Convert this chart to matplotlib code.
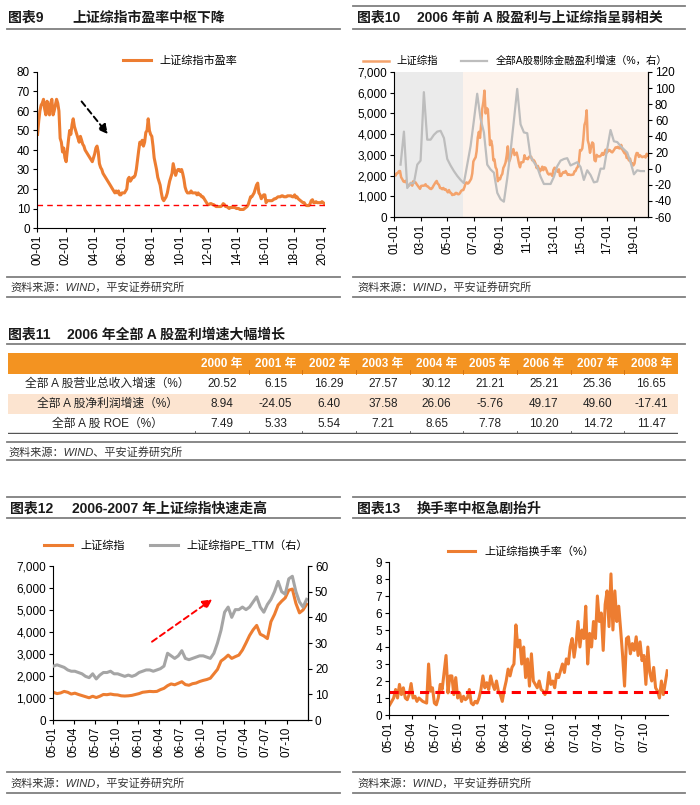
import matplotlib
matplotlib.use('Agg')
import matplotlib.pyplot as plt
import matplotlib.dates as mdates
import numpy as np
import pandas as pd
from matplotlib.lines import Line2D
from matplotlib.patches import Rectangle
from matplotlib.ticker import FuncFormatter, MultipleLocator

plt.rcParams['font.family'] = ['Liberation Sans', 'Noto Sans CJK SC']
plt.rcParams['axes.unicode_minus'] = False

# ---------------- 数据 ----------------
# 图表9 上证综指市盈率（月度，2000-01 起）
pe_vals = [
    48, 55, 60, 63, 64, 66, 61, 58, 65, 62, 58, 64,        # 2000
    66, 58, 60, 63, 66, 64, 60, 46, 44, 39, 41, 36,        # 2001
    34, 40, 45, 50, 48, 53, 56, 52, 50, 48, 46, 44,        # 2002
    47, 45, 43, 42, 40, 39, 38, 37, 36, 35, 34, 36,        # 2003
    38, 41, 42, 39, 33, 31, 30, 28, 27, 26, 25, 24,        # 2004
    23, 22, 21, 20, 19, 18, 19, 18, 19, 17, 17, 18,        # 2005
    18, 18, 19, 20, 25, 26, 24, 25, 26, 26, 27, 30,        # 2006
    35, 40, 44, 43, 45, 42, 44, 49, 50, 56, 50, 48,        # 2007
    47, 42, 36, 33, 30, 26, 24, 22, 18, 15, 14, 15,        # 2008
    16, 18, 21, 24, 26, 28, 33, 30, 27, 29, 30, 30,        # 2009
    29, 30, 28, 25, 21, 19, 18, 18, 18, 19, 18, 18,        # 2010
    18, 18, 17, 18, 17, 17, 16, 16, 15, 14, 13, 12,        # 2011
    12, 12.5, 12.5, 12, 12, 11.5, 11, 11, 11, 11, 11, 11.5,  # 2012
    12.5, 12, 11, 11, 10.5, 10, 10.5, 10.5, 11, 10.5, 10.5, 10,  # 2013
    10, 10, 9.5, 9.5, 9.5, 9.5, 10, 10.5, 11, 12, 14, 16,  # 2014
    16, 17, 18, 20, 22, 23, 18, 17, 15, 16, 17, 17,        # 2015
    13, 14, 14, 14, 14, 14, 14.5, 15, 15, 15.5, 16, 16,    # 2016
    16, 16.5, 16.5, 16, 16, 16, 16.5, 16.5, 16.5, 16.5, 16, 16,  # 2017
    17, 15.5, 16, 15, 14.5, 14, 13.5, 13, 13, 12, 11.5, 11.5,  # 2018
    11.5, 12.5, 14, 14.5, 13, 13, 13.5, 13, 13, 13, 13, 13.5,  # 2019
    13, 12.5,                                               # 2020
]
pe_center = 12

# 图表10 上证综指（月度，2001-01 起）
sh_index = [
    2070, 2000, 2110, 2120, 2210, 2220, 1920, 1830, 1720, 1690, 1750, 1650,  # 2001
    1490, 1520, 1580, 1650, 1510, 1730, 1650, 1670, 1580, 1510, 1440, 1360,  # 2002
    1500, 1510, 1510, 1520, 1580, 1490, 1480, 1420, 1370, 1350, 1400, 1500,  # 2003
    1590, 1680, 1740, 1600, 1560, 1400, 1390, 1340, 1400, 1320, 1340, 1270,  # 2004
    1190, 1300, 1180, 1160, 1060, 1080, 1080, 1160, 1160, 1100, 1100, 1160,  # 2005
    1260, 1300, 1300, 1440, 1640, 1670, 1610, 1660, 1750, 1840, 2100, 2680,  # 2006
    2790, 2880, 3180, 3840, 4110, 3820, 4470, 5220, 5550, 6100, 5000, 5260,  # 2007
    5200, 4350, 3470, 3690, 3430, 2740, 2780, 2400, 2290, 1730, 1870, 1820,  # 2008
    1990, 2080, 2370, 2480, 2630, 2960, 3410, 2670, 2780, 3000, 3200, 3280,  # 2009
    2990, 3050, 3110, 2870, 2590, 2400, 2640, 2640, 2660, 2980, 2820, 2810,  # 2010
    2790, 2900, 2930, 2910, 2740, 2760, 2700, 2570, 2360, 2470, 2330, 2200,  # 2011
    2290, 2430, 2260, 2400, 2370, 2230, 2100, 2050, 2090, 2070, 1980, 2270,  # 2012
    2380, 2360, 2240, 2180, 2300, 1980, 1990, 2100, 2170, 2140, 2220, 2120,  # 2013
    2030, 2060, 2030, 2030, 2040, 2050, 2200, 2220, 2360, 2420, 2680, 3230,  # 2014
    3210, 3310, 3750, 4440, 4610, 5150, 3700, 3500, 3100, 3380, 3600, 3540,  # 2015
    2740, 2690, 3000, 2940, 2920, 2930, 2980, 3090, 3000, 3100, 3250, 3100,  # 2016
    3160, 3240, 3220, 3150, 3120, 3190, 3270, 3360, 3350, 3390, 3320, 3310,  # 2017
    3480, 3260, 3170, 3080, 3100, 2850, 2880, 2730, 2820, 2600, 2590, 2490,  # 2018
    2580, 2940, 3090, 3080, 2900, 2980, 2930, 2890, 2910, 2930, 2870, 3050,  # 2019
    2980,                                                                    # 2020
]
# 全部A股剔除金融盈利增速（%，季度，2001Q2 起）
profit_growth = [
    5, 46, -24,
    -18, -18, 5, 10,
    95, 36, 36, 42,
    46, 47, 38, 12,
    4, -3, -9, -14,
    -18, 5, 28, 60,
    93, 62, 45, 5,
    -1, -5, -30, -38,
    -41, -12, 22, 60,
    99, 55, 45, 44,
    15, 8, 2, -10,
    -19, -19, -19, -10,
    3, 10, 12, 13,
    4, 6, 8, 2,
    -14, -2, -8, -17,
    -16, 0, 0, 25,
    48, 34, 33, 28,
    24, 20, 8, -7,
    -2, -3, -3,
]

# 图表11 表格
table_years = ['2000 年', '2001 年', '2002 年', '2003 年', '2004 年',
               '2005 年', '2006 年', '2007 年', '2008 年']
table_rows = ['全部 A 股营业总收入增速（%）', '全部 A 股净利润增速（%）', '全部 A 股 ROE（%）']
revenue_growth = [20.52, 6.15, 16.29, 27.57, 30.12, 21.21, 25.21, 25.36, 16.65]
netprofit_growth = [8.94, -24.05, 6.40, 37.58, 26.06, -5.76, 49.17, 49.60, -17.41]
roe = [7.49, 5.33, 5.54, 7.21, 8.65, 7.78, 10.20, 14.72, 11.47]

# 图表12 上证综指与PE_TTM（半月，2005-01 ~ 2007-12）
sh_0507 = [
    1260, 1200, 1230, 1300, 1260, 1180, 1220, 1160, 1110, 1060, 1010, 1080,  # 2005H1
    1020, 1080, 1160, 1150, 1180, 1150, 1140, 1100, 1090, 1100, 1120, 1160,  # 2005H2
    1200, 1260, 1280, 1300, 1290, 1300, 1380, 1440, 1560, 1640, 1600, 1670,  # 2006H1
    1740, 1610, 1580, 1650, 1680, 1750, 1800, 1840, 1900, 2100, 2300, 2680,  # 2006H2
    2800, 2950, 2800, 2880, 2950, 3180, 3500, 3840, 4100, 4300, 3900, 3820,  # 2007H1
    3700, 4470, 4800, 5220, 5400, 5550, 5900, 5950, 5300, 4870, 5000, 5260,  # 2007H2
]
pe_ttm_0507 = [
    21, 21.5, 21, 20.5, 19.5, 19, 19, 18.5, 18, 17, 16.5, 18,
    16, 17.5, 18.5, 18.5, 19, 18, 18, 17.5, 17, 17.5, 17, 17.5,
    18.5, 19, 19.5, 19.5, 19, 19.5, 20, 21, 26, 25, 24, 25,
    27, 24, 23.5, 24, 24.5, 25, 25, 24.5, 24, 26, 30, 35,
    42, 44, 40, 43, 43, 44, 43, 44, 46, 48, 44, 42,
    45, 47, 50, 54, 50, 49, 55, 56, 50, 46, 44, 47,
]

# 图表13 上证综指换手率（%，周度近似，2005-01 ~ 2007-12）
turnover = [
    0.6, 0.8, 1.0, 1.5,  1.0, 1.8, 1.2, 1.6,  1.0, 0.9, 1.2, 1.85,   # 2005 Q1
    1.0, 1.1, 0.8, 1.0,  0.9, 0.8, 0.75, 0.7,  3.0, 1.4, 1.6, 0.7,   # 2005 Q2
    0.6, 1.0, 1.8, 1.5,  2.5, 3.5, 1.3, 2.3,  2.3, 1.2, 2.2, 1.0,    # 2005 Q3
    1.3, 0.8, 1.1, 0.9,  1.0, 1.5, 0.7, 0.6,  0.8, 0.7, 1.0, 1.5,    # 2005 Q4
    2.3, 1.6, 1.9, 1.5,  2.3, 1.8, 1.5, 2.0,  1.4, 1.2, 0.8, 1.5,    # 2006 Q1
    2.0, 2.7, 2.3, 2.8,  3.0, 5.3, 4.0, 4.4,  3.0, 4.0, 2.2, 3.3,    # 2006 Q2
    1.7, 3.6, 2.0, 1.8,  1.6, 2.0, 1.5, 1.4,  1.2, 1.5, 2.5, 1.8,    # 2006 Q3
    2.0, 1.6, 2.4, 2.2,  2.6, 3.0, 2.5, 3.3,  3.0, 4.0, 4.5, 3.4,    # 2006 Q4
    4.2, 5.5, 4.0, 5.0,  4.5, 6.4, 3.0, 4.8,  4.0, 5.5, 4.5, 7.0,    # 2007 Q1
    5.5, 6.0, 3.8, 6.5,  7.3, 5.2, 8.3, 5.0,  7.3, 5.5, 6.4, 5.0,    # 2007 Q2
    3.5, 1.7, 4.5, 4.6,  3.6, 4.2, 3.8, 4.6,  3.5, 4.3, 3.2, 3.5,    # 2007 Q3
    1.8, 4.0, 2.5, 2.0,  2.8, 1.6, 1.4, 1.0,  2.0, 1.2, 1.9, 2.6,    # 2007 Q4
]
turnover_center = 1.35

ORANGE = '#ED7D31'
GRAY = '#A5A5A5'
W, H = 700, 805


def box(l, t, r, b):
    return [l / W, 1 - b / H, (r - l) / W, (b - t) / H]


def hline(fig, x0, x1, y, color='#7F7F7F', lw=1.3):
    fig.add_artist(Line2D([x0 / W, x1 / W], [1 - y / H, 1 - y / H],
                          color=color, lw=lw, transform=fig.transFigure))


def ftext(fig, x, y, s, **kw):
    fig.text(x / W, 1 - y / H, s, va='center', **kw)


def style_axis(ax, right=False):
    for s in ['top'] + ([] if right else ['right']):
        ax.spines[s].set_visible(False)
    for s in ax.spines.values():
        s.set_linewidth(0.8)
    ax.tick_params(direction='out', length=3, width=0.8, labelsize=8.5, pad=2)


def date_axis(ax, ticks, lim):
    ax.set_xlim(pd.Timestamp(lim[0]), pd.Timestamp(lim[1]))
    ax.set_xticks([pd.Timestamp(t) for t in ticks])
    ax.xaxis.set_major_formatter(mdates.DateFormatter('%y-%m'))
    plt.setp(ax.get_xticklabels(), rotation=90)


comma = FuncFormatter(lambda v, p: f'{v:,.0f}')

fig = plt.figure(figsize=(7, 8.05), dpi=100)
fig.patch.set_facecolor('white')

title_kw = dict(fontsize=10, fontweight='bold', color='#1a1a1a')
src_kw = dict(fontsize=8, style='italic', color='#333333')

# ---------------- 框线与标题 ----------------
hline(fig, 353, 685, 6)
for (x0, x1) in [(7, 340), (353, 685)]:
    hline(fig, x0, x1, 29)
    hline(fig, x0, x1, 277)
    hline(fig, x0, x1, 297)
    hline(fig, x0, x1, 497)
    hline(fig, x0, x1, 518)
    hline(fig, x0, x1, 772)
    hline(fig, x0, x1, 793)
hline(fig, 7, 685, 344)
hline(fig, 7, 685, 442)
hline(fig, 7, 685, 460)

ftext(fig, 8, 18, '图表9', **title_kw)
ftext(fig, 72, 18, '上证综指市盈率中枢下降', **title_kw)
ftext(fig, 357, 18, '图表10', **title_kw)
ftext(fig, 417, 18, '2006 年前 A 股盈利与上证综指呈弱相关', **title_kw)
ftext(fig, 8, 335, '图表11', **title_kw)
ftext(fig, 67, 335, '2006 年全部 A 股盈利增速大幅增长', **title_kw)
ftext(fig, 10, 509, '图表12', **title_kw)
ftext(fig, 72, 509, '2006-2007 年上证综指快速走高', **title_kw)
ftext(fig, 357, 509, '图表13', **title_kw)
ftext(fig, 417, 509, '换手率中枢急剧抬升', **title_kw)

ftext(fig, 10, 287, '资料来源：WIND，平安证券研究所', **src_kw)
ftext(fig, 357, 287, '资料来源：WIND，平安证券研究所', **src_kw)
ftext(fig, 8, 452, '资料来源：WIND、平安证券研究所', **src_kw)
ftext(fig, 10, 783, '资料来源：WIND，平安证券研究所', **src_kw)
ftext(fig, 357, 783, '资料来源：WIND，平安证券研究所', **src_kw)

# ---------------- 图表9 ----------------
ax9 = fig.add_axes(box(37, 72, 325, 228))
d9 = pd.date_range('2000-01-01', periods=len(pe_vals), freq='MS') + pd.Timedelta(days=14)
l9, = ax9.plot(d9, pe_vals, color=ORANGE, lw=2.2)
ax9.axhline(pe_center, color='red', lw=1, ls=(0, (4, 3)))
ax9.set_ylim(0, 80)
ax9.yaxis.set_major_locator(MultipleLocator(10))
date_axis(ax9, [f'{y}-01-01' for y in range(2000, 2021, 2)], ('2000-01-01', '2020-03-01'))
style_axis(ax9)
ax9.annotate('', xy=(pd.Timestamp('2005-02-01'), 47), xytext=(pd.Timestamp('2003-01-01'), 66),
             arrowprops=dict(arrowstyle='-|>', ls=(0, (3, 2)), color='black', lw=1.4,
                             mutation_scale=14))
fig.legend([l9], ['上证综指市盈率'], loc='center', bbox_to_anchor=(180 / W, 1 - 61 / H),
           frameon=False, fontsize=8, handlelength=2.5)

# ---------------- 图表10 ----------------
ax10 = fig.add_axes(box(394, 72, 648, 217))
d10 = pd.date_range('2001-01-01', periods=len(sh_index), freq='MS') + pd.Timedelta(days=14)
ax10.axvspan(pd.Timestamp('2001-01-01'), pd.Timestamp('2006-03-10'), color='#EBEBEB', lw=0, zorder=0)
ax10.axvspan(pd.Timestamp('2006-03-10'), pd.Timestamp('2020-01-20'), color='#FDF3EC', lw=0, zorder=0)
l10a, = ax10.plot(d10, sh_index, color='#F4A36C', lw=1.8)
ax10.set_ylim(0, 7000)
ax10.yaxis.set_major_locator(MultipleLocator(1000))
ax10.yaxis.set_major_formatter(comma)
ax10b = ax10.twinx()
dg = pd.date_range('2001-06-01', periods=len(profit_growth), freq='3MS') + pd.Timedelta(days=29)
l10b, = ax10b.plot(dg, profit_growth, color='#BDBDBD', lw=1.6)
ax10b.set_ylim(-60, 120)
ax10b.yaxis.set_major_locator(MultipleLocator(20))
date_axis(ax10, [f'{y}-01-01' for y in range(2001, 2020, 2)], ('2001-01-01', '2020-01-20'))
style_axis(ax10, right=True)
style_axis(ax10b, right=True)
ax10b.spines['left'].set_visible(False)
fig.legend([l10a, l10b], ['上证综指', '全部A股剔除金融盈利增速（%，右）'], loc='center',
           bbox_to_anchor=(515 / W, 1 - 61 / H), frameon=False, fontsize=7.5,
           handlelength=2.5, ncol=2, columnspacing=2.2)

# ---------------- 图表11 表格 ----------------
axt = fig.add_axes(box(8, 353, 678, 434))
axt.set_xlim(0, 670)
axt.set_ylim(81, 0)
axt.axis('off')
col_edges = [0, 187] + [187 + 53.667 * (i + 1) for i in range(len(table_years))]
row_edges = [0, 21, 41, 61, 81]
axt.add_patch(Rectangle((0, 0), 670, 21, color='#F39321', lw=0))
axt.add_patch(Rectangle((0, 41), 670, 20, color='#FCE4D0', lw=0))
for i, yr in enumerate(table_years):
    cx = (col_edges[i + 1] + col_edges[i + 2]) / 2
    axt.text(cx, 10.5, yr, ha='center', va='center', color='white', fontsize=8.5, fontweight='bold')
    if i > 0:
        axt.plot([col_edges[i + 1]] * 2, [17, 21], color='#D07010', lw=0.6)
for r, (name, vals) in enumerate(zip(table_rows, [revenue_growth, netprofit_growth, roe])):
    cy = (row_edges[r + 1] + row_edges[r + 2]) / 2
    axt.text(col_edges[1] / 2 + 6, cy, name, ha='center', va='center', fontsize=8.5, color='#222222')
    for i, v in enumerate(vals):
        cx = (col_edges[i + 1] + col_edges[i + 2]) / 2
        axt.text(cx, cy, f'{v:.2f}', ha='center', va='center', fontsize=8.5, color='#222222')
axt.plot([0, 670], [80.5, 80.5], color='#555555', lw=1.0)
for x in col_edges[1:-1]:
    axt.plot([x, x], [78, 80.5], color='#555555', lw=0.6)

# ---------------- 图表12 ----------------
ax12 = fig.add_axes(box(53, 566, 308, 720))
d12 = pd.date_range('2005-01-03', '2007-12-25', periods=len(sh_0507))
l12a, = ax12.plot(d12, sh_0507, color=ORANGE, lw=2.2)
ax12.set_ylim(0, 7000)
ax12.yaxis.set_major_locator(MultipleLocator(1000))
ax12.yaxis.set_major_formatter(comma)
ax12b = ax12.twinx()
l12b, = ax12b.plot(d12, pe_ttm_0507, color=GRAY, lw=2.2)
ax12b.set_ylim(0, 60)
ax12b.yaxis.set_major_locator(MultipleLocator(10))
q_ticks = [f'{y}-{m:02d}-01' for y in (2005, 2006, 2007) for m in (1, 4, 7, 10)]
date_axis(ax12, q_ticks, ('2005-01-01', '2007-12-31'))
style_axis(ax12, right=True)
style_axis(ax12b, right=True)
ax12b.spines['left'].set_visible(False)
ax12.annotate('', xy=(pd.Timestamp('2006-11-25'), 5560), xytext=(pd.Timestamp('2006-02-20'), 3486),
              arrowprops=dict(arrowstyle='-|>', ls=(0, (3, 2)), color='red', lw=1.4,
                              mutation_scale=14))
fig.legend([l12a, l12b], ['上证综指', '上证综指PE_TTM（右）'], loc='center',
           bbox_to_anchor=(176 / W, 1 - 545 / H), frameon=False, fontsize=8,
           handlelength=2.5, ncol=2, columnspacing=2.2)

# ---------------- 图表13 ----------------
ax13 = fig.add_axes(box(389, 562, 668, 715))
d13 = pd.date_range('2005-01-04', '2007-12-28', periods=len(turnover))
l13, = ax13.plot(d13, turnover, color=ORANGE, lw=2.2)
ax13.axhline(turnover_center, color='red', lw=2.2, ls=(0, (3, 2)))
ax13.set_ylim(0, 9)
ax13.yaxis.set_major_locator(MultipleLocator(1))
date_axis(ax13, q_ticks, ('2005-01-01', '2007-12-31'))
style_axis(ax13)
fig.legend([l13], ['上证综指换手率（%）'], loc='center', bbox_to_anchor=(521 / W, 1 - 552 / H),
           frameon=False, fontsize=8, handlelength=2.5)

fig.savefig('out.png', dpi=100)
